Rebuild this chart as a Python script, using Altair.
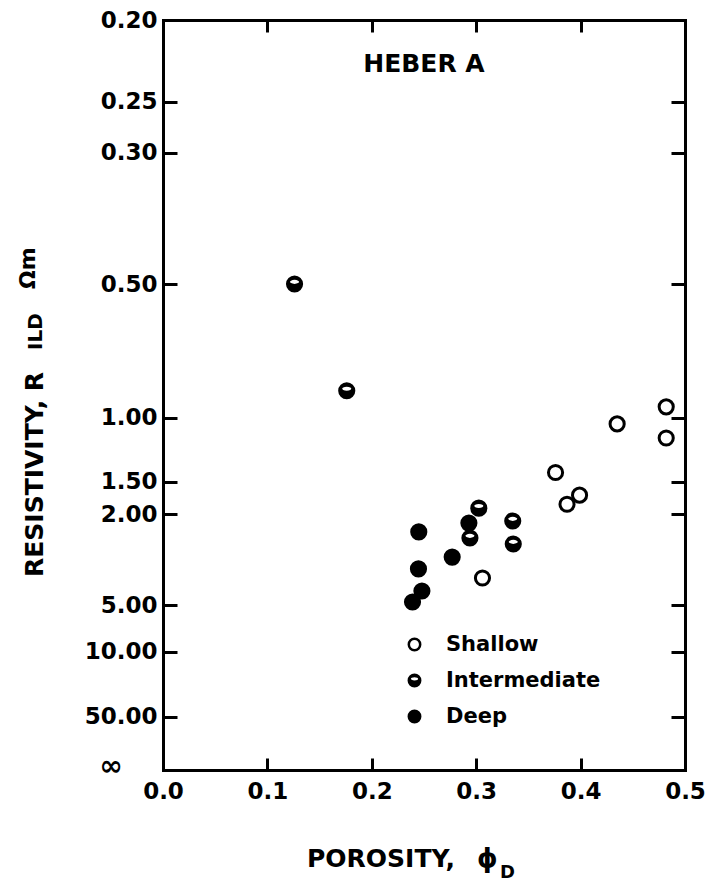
import altair as alt
import pandas as pd

# ---------------- data ----------------
CATEGORIES = ["Shallow", "Intermediate", "Deep"]

SHALLOW_POROSITY = [0.482, 0.482, 0.435, 0.376, 0.399, 0.387, 0.306]
SHALLOW_RESISTIVITY = [0.96, 1.16, 1.05, 1.43, 1.71, 1.85, 4.11]

INTER_POROSITY = [0.126, 0.176, 0.3025, 0.335, 0.294, 0.3355]
INTER_RESISTIVITY = [0.50, 0.90, 1.91, 2.23, 2.79, 2.99]

DEEP_POROSITY = [0.245, 0.293, 0.277, 0.2447, 0.248, 0.239]
DEEP_RESISTIVITY = [2.59, 2.30, 3.42, 3.81, 4.54, 4.90]

X_TICKS = [0.0, 0.1, 0.2, 0.3, 0.4, 0.5]
X_INNER_TICKS = [0.1, 0.2, 0.3, 0.4]
Y_TICKS = [0.20, 0.25, 0.30, 0.50, 1.00, 1.50, 2.00, 5.00, 10.00, 50.00]
Y_INNER_TICKS = [0.25, 0.30, 0.50, 1.00, 1.50, 2.00, 5.00, 10.00, 50.00]
INFINITY = 1000.0  # stand-in value for the "∞" end of the resistivity axis

# the hand-drawn (non-uniform) resistivity axis: piecewise-linear scale nodes
Y_NODES = Y_TICKS + [INFINITY]
Y_NODE_POS = [0, 81.5, 132.5, 264, 397.5, 461.5, 494, 585, 631.5, 696.5, 750]

TITLE = "HEBER A"
Y_TITLE = ["RESISTIVITY, R", "ILD", "Ωm"]
X_TITLE = ["POROSITY,", "ϕ", "D"]
INF_LABEL = "∞"

# ---------------- layout ----------------
W, H = 522, 750
FONT = "DejaVu Sans"
WEIGHT = "bold"
FRAME = 3

df = pd.DataFrame({
    "porosity": SHALLOW_POROSITY + INTER_POROSITY + DEEP_POROSITY,
    "resistivity": SHALLOW_RESISTIVITY + INTER_RESISTIVITY + DEEP_RESISTIVITY,
    "zone": (["Shallow"] * len(SHALLOW_POROSITY)
             + ["Intermediate"] * len(INTER_POROSITY)
             + ["Deep"] * len(DEEP_POROSITY)),
})

# half-filled symbol: black disc with an elliptical hole in its upper half
HALF_PATH = ("M -1 0 A 1 1 0 1 1 1 0 A 1 1 0 1 1 -1 0 Z "
             "M -0.85 -0.3 A 0.85 0.5 0 1 0 0.85 -0.3 A 0.85 0.5 0 1 0 -0.85 -0.3 Z")

x_scale = alt.Scale(domain=[0, 0.5], nice=False, zero=False)
y_scale = alt.Scale(type="linear", domain=Y_NODES, range=Y_NODE_POS, nice=False, zero=False)

legend = alt.Legend(
    title=None, orient="none", legendX=241, legendY=614, padding=0,
    labelFontSize=21, labelFont=FONT, labelFontWeight=WEIGHT, labelColor="black",
    labelOffset=21, labelLimit=400, symbolSize=130, symbolStrokeWidth=2.5,
    rowPadding=13,
)

points = alt.Chart(df).mark_point(
    filled=True, strokeWidth=3, size=200, opacity=1
).encode(
    x=alt.X("porosity:Q", scale=x_scale, axis=alt.Axis(
        orient="bottom", values=X_TICKS, format=".1f", ticks=False,
        domain=True, domainWidth=FRAME, domainColor="black", domainCap="square",
        grid=False, title=None, labelFontSize=23, labelFont=FONT,
        labelFontWeight=WEIGHT, labelColor="black",
        labelPadding=10, labelFlush=False, labelOverlap=False)),
    y=alt.Y("resistivity:Q", scale=y_scale, axis=alt.Axis(
        orient="left", values=Y_TICKS, format=".2f", ticks=False,
        domain=True, domainWidth=FRAME, domainColor="black", domainCap="square",
        grid=False, title=None, labelFontSize=23, labelFont=FONT,
        labelFontWeight=WEIGHT, labelColor="black",
        labelPadding=6, labelOverlap=False, labelBaseline="middle")),
    shape=alt.Shape("zone:N", scale=alt.Scale(domain=CATEGORIES,
                    range=["circle", HALF_PATH, "circle"]), legend=legend),
    fill=alt.Fill("zone:N", scale=alt.Scale(domain=CATEGORIES,
                  range=["transparent", "black", "black"]), legend=legend),
    stroke=alt.Stroke("zone:N", scale=alt.Scale(domain=CATEGORIES,
                      range=["black", "black", "black"]), legend=legend),
)


def tick_layer(x_orient, y_orient, frame):
    return alt.Chart(df).mark_point(opacity=0).encode(
        x=alt.X("porosity:Q", scale=x_scale, axis=alt.Axis(
            orient=x_orient, offset=-H, values=X_INNER_TICKS, labels=False,
            domain=frame, domainWidth=FRAME, domainColor="black", domainCap="square",
            grid=False, title=None, ticks=True, tickSize=12,
            tickWidth=3, tickColor="black")),
        y=alt.Y("resistivity:Q", scale=y_scale, axis=alt.Axis(
            orient=y_orient, offset=-W, values=Y_INNER_TICKS, labels=False,
            domain=frame, domainWidth=FRAME, domainColor="black", domainCap="square",
            grid=False, title=None, ticks=True, tickSize=14,
            tickWidth=3, tickColor="black")),
    )


ticks_a = tick_layer("top", "right", False)   # ticks on bottom and left edges, pointing in
ticks_b = tick_layer("bottom", "left", True)  # ticks (and frame) on top and right edges


def text(t, x, y, size, angle=0, align="left", baseline="alphabetic"):
    return alt.Chart(pd.DataFrame({"t": [t]})).mark_text(
        text=t, fontSize=size, font=FONT, fontWeight=WEIGHT, color="black",
        angle=angle, align=align, baseline=baseline,
    ).encode(x=alt.value(x), y=alt.value(y))


texts = [
    text(TITLE, 261, 52, 25, align="center"),
    text(Y_TITLE[0], -120, 557, 25, angle=270),
    text(Y_TITLE[1], -121, 330, 20, angle=270),
    text(Y_TITLE[2], -128, 269, 22, angle=270),
    text(X_TITLE[0], 144, 847, 25),
    text(X_TITLE[1], 314, 847, 26),
    text(X_TITLE[2], 337, 858, 18),
    text(INF_LABEL, -52, 747, 28, align="center", baseline="middle"),
]

chart = alt.layer(points, ticks_a, ticks_b, *texts).resolve_axis(
    x="independent", y="independent"
).properties(
    width=W, height=H,
    autosize=alt.AutoSizeParams(type="none"),
    padding={"left": 163, "top": 20, "right": 35, "bottom": 114},
).configure_view(
    stroke="transparent"
).configure(
    font=FONT, background="white"
)

chart.save("out.html", embed_options={"renderer": "svg", "actions": False})
